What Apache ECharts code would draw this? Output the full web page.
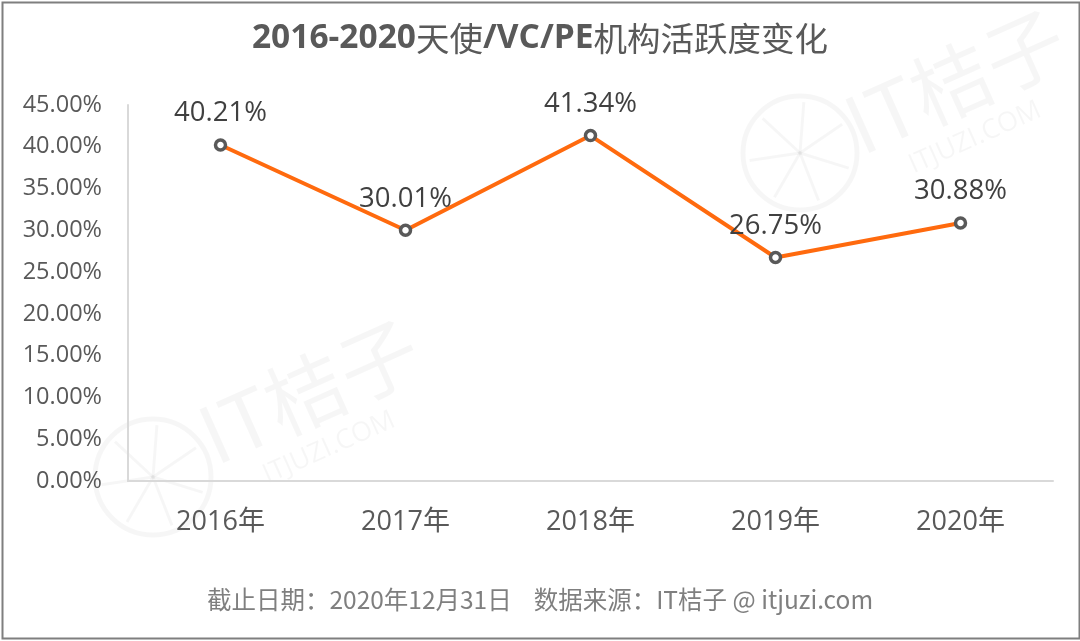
<!DOCTYPE html>
<html>
<head>
<meta charset="utf-8">
<script src="https://cdn.jsdelivr.net/npm/echarts@6/dist/echarts.min.js"></script>
<style>
html,body{margin:0;padding:0;background:#fff;}
#chart{width:1080px;height:641px;}
</style>
</head>
<body>
<div id="chart"></div>
<script>
const categories = ['2016年', '2017年', '2018年', '2019年', '2020年'];
const activity = [40.21, 30.01, 41.34, 26.75, 30.88];
const yTicks = { min: 0, max: 45, interval: 5 };
const titleText = '{b|2016-2020}{n|天使}{b|/VC/PE}{n|机构活跃度变化}';
const footerText = '截止日期：2020年12月31日    数据来源：IT桔子 @ itjuzi.com';

const FONT = '"Open Sans", "Noto Sans CJK SC", sans-serif';
const WM = 'rgba(0,0,0,0.035)';

function watermark(cx, cy, r, tx, ty, ang) {
  const spokes = [];
  for (let i = 0; i < 7; i++) {
    const a = i * Math.PI * 2 / 7 + 0.3;
    spokes.push({
      type: 'line', silent: true, z: -1,
      shape: { x1: cx, y1: cy, x2: cx + Math.cos(a) * (r - 6), y2: cy + Math.sin(a) * (r - 6) },
      style: { stroke: WM, lineWidth: 3 }
    });
  }
  return [
    { type: 'circle', silent: true, z: -1, shape: { cx: cx, cy: cy, r: r }, style: { fill: 'none', stroke: WM, lineWidth: 5 } },
    ...spokes,
    {
      type: 'group', x: tx, y: ty, rotation: ang, silent: true, z: -1,
      children: [
        { type: 'text', x: 0, y: 0, style: { text: 'IT桔子', fontSize: 80, fontFamily: '"Noto Sans CJK SC", sans-serif', fill: WM, textVerticalAlign: 'bottom' } },
        { type: 'text', x: 40, y: 6, style: { text: 'ITJUZI.COM', fontSize: 27, fontFamily: FONT, fill: WM, textVerticalAlign: 'top' } }
      ]
    }
  ];
}

const chart = echarts.init(document.getElementById('chart'));
chart.setOption({
  backgroundColor: '#fff',
  animation: false,
  title: {
    text: titleText,
    left: 'center',
    top: 17,
    textStyle: {
      rich: {
        b: { fontFamily: '"Open Sans", "Noto Sans CJK SC", sans-serif', fontSize: 33.5, fontWeight: 'bold', color: '#595959' },
        n: { fontFamily: '"Noto Sans CJK SC", sans-serif', fontSize: 33.5, fontWeight: 'normal', color: '#595959' }
      }
    }
  },
  grid: { left: 128, right: 27, top: 105, bottom: 160 },
  xAxis: {
    type: 'category',
    data: categories,
    boundaryGap: true,
    axisLine: { lineStyle: { color: '#d9d9d9', width: 2 } },
    axisTick: { show: false },
    axisLabel: { color: '#595959', fontSize: 27, fontFamily: FONT, margin: 28 },
    splitLine: { show: false }
  },
  yAxis: {
    type: 'value',
    min: yTicks.min, max: yTicks.max, interval: yTicks.interval,
    axisLine: { show: true, lineStyle: { color: '#d9d9d9', width: 2 } },
    axisTick: { show: false },
    splitLine: { show: false },
    axisLabel: {
      color: '#595959', fontSize: 23.5, fontFamily: FONT, margin: 26,
      formatter: v => v.toFixed(2) + '%'
    }
  },
  series: [{
    type: 'line',
    data: activity,
    symbol: 'circle',
    symbolSize: 10,
    z: 3,
    lineStyle: { color: '#FF6A0E', width: 4 },
    itemStyle: { color: '#ffffff', borderColor: '#595959', borderWidth: 3.5 },
    label: {
      show: true, position: 'top', distance: 11,
      color: '#404040', fontSize: 27.5, fontFamily: FONT,
      formatter: p => p.value.toFixed(2) + '%'
    }
  }],
  graphic: [
    ...watermark(800, 153, 57, 866, 165, 0.42),
    ...watermark(153, 477, 58, 220, 475, 0.42),
    {
      type: 'rect', left: 0, top: 0,
      shape: { x: 1, y: 1, width: 1077, height: 636 },
      style: { fill: 'none', stroke: '#7f7f7f', lineWidth: 2 }, silent: true
    },
    {
      type: 'text', left: 'center', top: 587,
      style: { text: footerText, fontSize: 24.5, fontFamily: '"Noto Sans CJK SC", sans-serif', fill: '#7f7f7f' }
    }
  ]
});
</script>
</body>
</html>
